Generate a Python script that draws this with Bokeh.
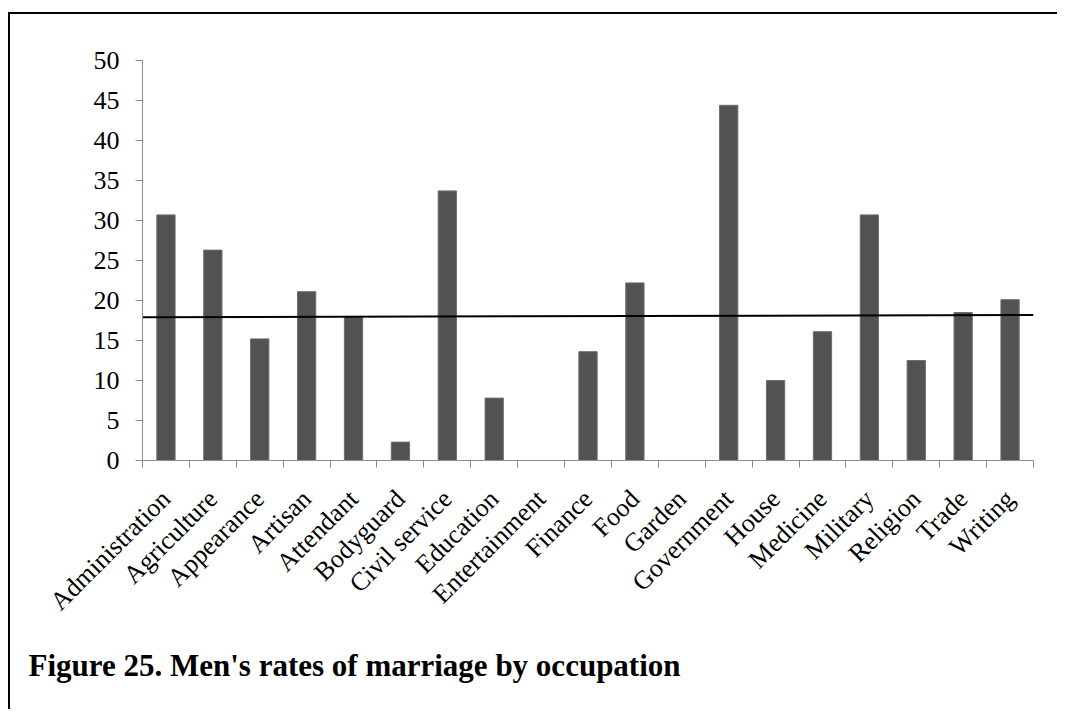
from bokeh.plotting import figure
from bokeh.models import Range1d, FixedTicker, Title
from bokeh.embed import file_html
from bokeh.resources import INLINE
import math

# ---- data ----
categories = ["Administration", "Agriculture", "Appearance", "Artisan", "Attendant",
              "Bodyguard", "Civil service", "Education", "Entertainment", "Finance",
              "Food", "Garden", "Government", "House", "Medicine", "Military",
              "Religion", "Trade", "Writing"]
rates = [30.7, 26.3, 15.2, 21.1, 18.0, 2.3, 33.7, 7.8, 0.0, 13.6,
         22.2, 0.0, 44.4, 10.0, 16.1, 30.7, 12.5, 18.5, 20.1]
avg_line_values = [17.9, 18.2]   # average/trend line at left and right end
y_ticks = [0, 5, 10, 15, 20, 25, 30, 35, 40, 45, 50]
title_text = "Figure 25. Men's rates of marriage by occupation"

n = len(categories)
centers = list(range(n))
boundaries = [i - 0.5 for i in range(n + 1)]

p = figure(width=1049, height=697, output_backend="svg", toolbar_location=None,
           x_range=Range1d(-0.5, n - 0.5), y_range=Range1d(0, 50),
           min_border_left=132, min_border_right=26, min_border_top=46, min_border_bottom=251)
p.styles = {"border-top": "2px solid #000", "border-left": "2px solid #000",
            "position": "relative", "left": "8px", "top": "12px"}
p.outline_line_color = None
p.xgrid.visible = False
p.ygrid.visible = False
p.background_fill_color = "white"
p.border_fill_color = "white"

# bars
p.vbar(x=centers, top=rates, width=0.39, bottom=0,
       fill_color="#525252", line_color="#6e6e6e", line_width=1)

# average line
p.line(x=[boundaries[0], boundaries[-1]], y=avg_line_values, line_color="black", line_width=2)

# x axis
xa = p.xaxis[0]
xa.ticker = FixedTicker(ticks=centers, minor_ticks=boundaries)
xa.major_label_overrides = {i: c for i, c in enumerate(categories)}
xa.major_tick_out = 0
xa.major_tick_in = 0
xa.minor_tick_out = 7
xa.minor_tick_in = 0
xa.minor_tick_line_color = "#8c8c8c"
xa.axis_line_color = "#8c8c8c"
xa.major_label_orientation = math.pi / 4
xa.major_label_text_font = "Liberation Serif"
xa.major_label_text_font_size = "26px"
xa.major_label_text_color = "black"
xa.major_label_standoff = 27

# y axis
ya = p.yaxis[0]
ya.ticker = FixedTicker(ticks=y_ticks)
ya.minor_tick_out = 0
ya.minor_tick_in = 0
ya.major_tick_out = 7
ya.major_tick_in = 0
ya.major_tick_line_color = "#8c8c8c"
ya.axis_line_color = "#8c8c8c"
ya.major_label_text_font = "Liberation Serif"
ya.major_label_text_font_size = "26px"
ya.major_label_text_color = "black"
ya.major_label_standoff = 16

# caption
cap = Title(text=title_text, align="left", offset=-114, standoff=33,
            text_font="Liberation Serif", text_font_size="31px", text_font_style="bold",
            text_color="black")
p.add_layout(cap, "below")

open("out.html", "w").write(file_html(p, INLINE))
